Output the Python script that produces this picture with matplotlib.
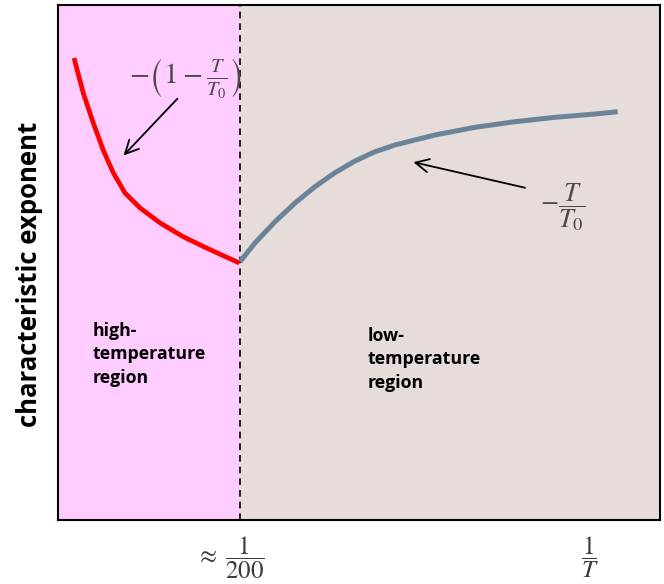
import numpy as np
import matplotlib.pyplot as plt

# curve points (axis runs 0..1 in both directions)
hot_x = [0.0266, 0.0420, 0.0586, 0.0752, 0.0919, 0.1113, 0.1362, 0.1694,
         0.2081, 0.2470, 0.3012]
hot_y = [0.897, 0.829, 0.771, 0.718, 0.674, 0.635, 0.606, 0.577,
         0.550, 0.528, 0.499]
cold_x = [0.3023, 0.3272, 0.3605, 0.3937, 0.4269, 0.4601, 0.4934, 0.5266,
          0.5598, 0.6262, 0.6927, 0.7591, 0.8256, 0.8920, 0.9297]
cold_y = [0.5016, 0.5379, 0.5792, 0.6155, 0.6472, 0.6744, 0.6971, 0.7151,
          0.7282, 0.7476, 0.7625, 0.7734, 0.7819, 0.7883, 0.7928]
x_split = 0.302
tick_pos = [0.286, 0.884]
tick_labels = [r'$\approx\;\dfrac{1}{200}$', r'$\dfrac{1}{T}$']


def main():
    plt.rcParams['mathtext.fontset'] = 'stix'
    fig = plt.figure(figsize=(6.64, 5.84), dpi=100)
    ax = fig.add_axes([58 / 664, 64 / 584, 602 / 664, 515 / 584])
    ax.set_xlim(0, 1)
    ax.set_ylim(0, 1)

    ax.axvspan(0, x_split, color='#FFCCFF', zorder=0)
    ax.axvspan(x_split, 1, color='#E6DCDA', zorder=0)
    ax.axvline(x_split, color='black', ls=(0, (4, 3)), lw=1.2)

    ax.plot(hot_x, hot_y, color='#FF0000', lw=3.4, solid_capstyle='butt',
            solid_joinstyle='round')
    ax.plot(cold_x, cold_y, color='#6C8497', lw=3.6, solid_capstyle='butt',
            solid_joinstyle='round')

    ax.annotate('', xy=(0.1058, 0.704), xytext=(0.2015, 0.822),
                arrowprops=dict(arrowstyle='->', lw=1.3, color='black',
                                mutation_scale=24))
    ax.text(0.211, 0.858, r'$-\left(1-\frac{T}{T_0}\right)$', fontsize=21,
            color='#4a4a4a', ha='center', va='center')
    ax.annotate('', xy=(0.5859, 0.696), xytext=(0.7802, 0.644),
                arrowprops=dict(arrowstyle='->', lw=1.3, color='black',
                                mutation_scale=24))
    ax.text(0.838, 0.607, r'$-\dfrac{T}{T_0}$', fontsize=19,
            color='#4a4a4a', ha='center', va='center')

    ax.text(0.058, 0.385, 'high-\ntemperature\nregion', fontsize=12.8,
            fontweight='bold', family='Open Sans', ha='left', va='top',
            linespacing=1.4)
    ax.text(0.515, 0.375, 'low-\ntemperature\nregion', fontsize=12.8,
            fontweight='bold', family='Open Sans', ha='left', va='top',
            linespacing=1.4)

    ax.set_xticks(tick_pos)
    ax.set_xticklabels(tick_labels, fontsize=18, color='#3a3a3a')
    ax.tick_params(axis='x', length=0, pad=10)
    ax.set_yticks([])
    ax.set_ylabel('characteristic exponent', fontsize=18.5, fontweight='bold',
                  family='Open Sans')
    ax.yaxis.set_label_coords(-0.025, 0.476)
    for s in ax.spines.values():
        s.set_linewidth(1.5)

    plt.savefig('out.png', dpi=100)


if __name__ == "__main__":
    main()
